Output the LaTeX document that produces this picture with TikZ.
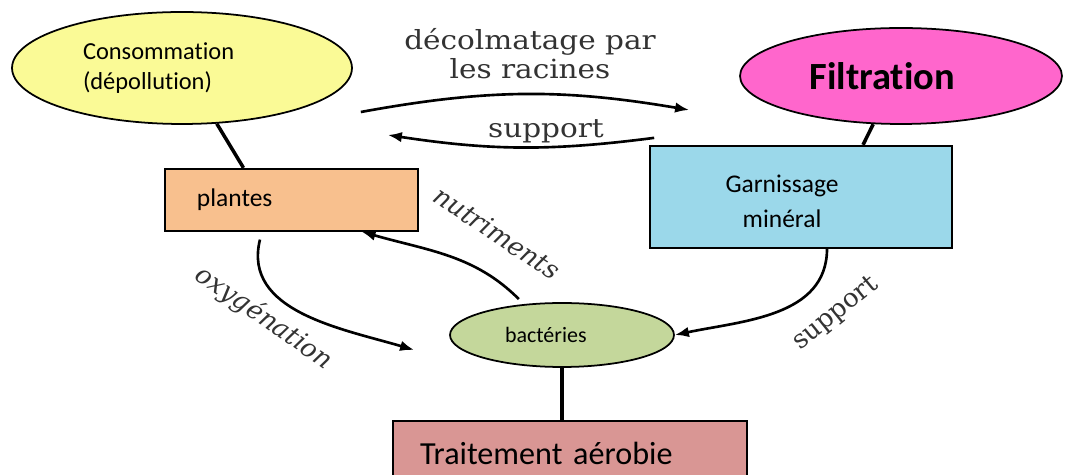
\documentclass[tikz,border=0pt]{standalone}
\usepackage{fontspec}
\setmainfont{Carlito}[Ligatures=NoCommon]
\newfontfamily\serifwide[FakeStretch=1.12]{DejaVu Serif}
\newfontfamily\serifn{DejaVu Serif}
\usetikzlibrary{shapes.geometric,arrows.meta,positioning}

\definecolor{consfill}{RGB}{250,250,150}
\definecolor{filtfill}{RGB}{255,102,204}
\definecolor{plantfill}{RGB}{248,192,142}
\definecolor{garnfill}{RGB}{155,216,234}
\definecolor{bactfill}{RGB}{196,215,155}
\definecolor{traitfill}{RGB}{217,150,148}

\tikzset{
  blob/.style={ellipse, draw, line width=1pt, inner sep=2pt},
  box/.style={rectangle, draw, line width=1pt},
  link/.style={line width=2pt},
  arr/.style={line width=1.5pt, -{Latex[length=8pt,width=6pt]}},
  lbl/.style={font=\serifwide\fontsize{15}{16.5}\selectfont, text=black!80, align=center},
  rlbl/.style={font=\serifn\fontsize{14.8}{17}\selectfont, text=black!80},
  ilbl/.style={font=\serifn\itshape\fontsize{14.8}{17}\selectfont, text=black!80}
}

\begin{document}
\begin{tikzpicture}[x=0.02cm, y=-0.02cm]
    \useasboundingbox (0,0) rectangle (1078,475);

    \node[blob, fill=consfill, minimum width=6.8cm, minimum height=2.24cm, text width=3.96cm, align=left,
          font=\fontsize{13.9}{17}\selectfont] (cons) at (182,68) {Consommation\\(dépollution)};
    \node[blob, fill=filtfill, minimum width=6.44cm, minimum height=1.92cm, text width=3.66cm, align=left,
          font=\bfseries\fontsize{21.9}{24}\selectfont] (filt) at (901,76) {Filtration};
    \node[box, fill=plantfill, minimum width=5.06cm, minimum height=1.24cm, text width=3.78cm, align=left,
          font=\fontsize{14.5}{17}\selectfont, below=0.86cm of cons, xshift=2.19cm] (plantes) {plantes};
    \node[box, fill=garnfill, minimum width=6.04cm, minimum height=2.04cm,
          below=0.4cm of filt, xshift=-2cm] (garn) {};
    \node[align=center, font=\fontsize{14.5}{20}\selectfont] (garn-t) at ([xshift=-0.38cm, yshift=-0.1cm]garn.center) {Garnissage\\minéral};
    \node[blob, fill=bactfill, minimum width=4.48cm, minimum height=1.28cm, text width=2.28cm, align=left,
          font=\fontsize{12.5}{14}\selectfont] (bact) at (562,335) {bactéries};
    \node[box, fill=traitfill, minimum width=7.08cm, minimum height=1.32cm, text width=6cm, align=left,
          font=\fontsize{18.3}{22}\selectfont, below=1.04cm of bact, xshift=0.16cm] (trait) {Traitement aérobie};

    \draw[link] (cons.-58) -- ([xshift=-0.96cm]plantes.north);
    \draw[link] (filt.-120) -- ([xshift=1.24cm]garn.north);
    \draw[link] (bact.south) -- (bact.south |- trait.north);

    \draw[arr] ([xshift=0.16cm, yshift=-0.88cm]cons.east) to[bend left=10] ([xshift=-1cm, yshift=-0.68cm]filt.west);
    \draw[arr] ([xshift=0.1cm, yshift=0.14cm]garn.north west) to[bend left=8] ([xshift=0.7cm, yshift=-1.34cm]cons.east);
    \draw[arr, shorten <=4pt] (bact.141) to[out=135, in=-16] ([xshift=1.4cm]plantes.south);
    \draw[arr] ([xshift=-0.63cm, yshift=-0.16cm]plantes.south) to[out=-104, in=163.5] ([xshift=-0.7cm, yshift=-0.3cm]bact.west);
    \draw[arr] ([xshift=0.52cm]garn.south) to[out=-90, in=12] (bact.east);

    \node[lbl] (decol) at (530,54) {décolmatage par\\les racines};
    \node[lbl] (supp1) at (546,131) {support};
    \node[ilbl, rotate=-33.5] (nutr) at (497,233) {nutriments};
    \node[ilbl, rotate=-35] (oxyg) at (264,318) {oxygénation};
    \node[rlbl, rotate=39] (supp2) at (836,314) {support};
\end{tikzpicture}
\end{document}
